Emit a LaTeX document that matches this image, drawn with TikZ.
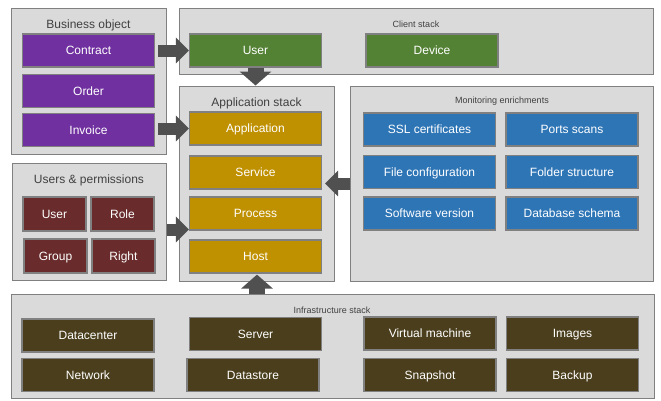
\documentclass[tikz,border=0pt]{standalone}
\usepackage{fontspec}
\setmainfont{Liberation Sans}
\usetikzlibrary{arrows.meta, positioning}

\definecolor{panelfill}{HTML}{DADADA}
\definecolor{panelline}{HTML}{808080}
\definecolor{labelgray}{HTML}{404040}
\definecolor{bopurple}{HTML}{7030A0}
\definecolor{clgreen}{HTML}{548235}
\definecolor{appgold}{HTML}{BF9000}
\definecolor{permred}{HTML}{692B2B}
\definecolor{monblue}{HTML}{2E75B6}
\definecolor{infbrown}{HTML}{4A3E1C}
\definecolor{arrowgray}{HTML}{505050}

\begin{document}
\begin{tikzpicture}[x=1pt, y=-1pt,
                    panel/.style={rectangle, draw=panelline, fill=panelfill, line width=1pt, inner sep=0pt},
                    title/.style={text=labelgray, font=\fontsize{12}{14}\selectfont, inner sep=0pt},
                    smalltitle/.style={text=labelgray, font=\fontsize{9}{11}\selectfont, inner sep=0pt},
                    item/.style={rectangle, draw=panelline, line width=1.2pt, text=white,
                                 minimum width=132pt, minimum height=33pt, inner sep=0pt,
                                 text height=8.6pt, text depth=0.2pt,
                                 font=\fontsize{12}{14}\selectfont},
                    smallitem/.style={item, minimum width=63pt, minimum height=34pt},
                    bigarrow/.style={draw=arrowgray, line width=12pt,
                                     -{Triangle[width=25pt,length=13pt]}},
                    tallarrow/.style={draw=arrowgray, line width=16pt,
                                      -{Triangle[width=31pt,length=14pt]}}]

\useasboundingbox (0,0) rectangle (661,400);

% Panels
\node (business) [panel, minimum width=155pt, minimum height=146pt] at (88.5,81) {};
\node (client) [panel, minimum width=474pt, minimum height=66pt] at (416,41) {};
\node (appstack) [panel, minimum width=155pt, minimum height=195pt] at (256.5,183.5) {};
\node (monitoring) [panel, minimum width=303pt, minimum height=195pt] at (501.5,183.5) {};
\node (perms) [panel, minimum width=154pt, minimum height=117pt] at (89,221.5) {};
\node (infra) [panel, minimum width=643pt, minimum height=104pt] at (332.5,346) {};

% Titles
\node (businesstitle) [title] at (88.5,25) {Business object};
\node (clienttitle) [smalltitle] at (416,24) {Client stack};
\node (apptitle) [title] at (256.5,103) {Application stack};
\node (montitle) [smalltitle] at (502,101) {Monitoring enrichments};
\node (permstitle) [title] at (89,180) {Users \& permissions};
\node (infratitle) [smalltitle] at (332,310) {Infrastructure stack};

% Business object
\node (contract) [item, fill=bopurple] at (88.5,50.5) {Contract};
\node (order) [item, fill=bopurple] at (88.5,91) {Order};
\node (invoice) [item, fill=bopurple] at (88.5,130) {Invoice};

% Client stack
\node (cuser) [item, fill=clgreen] at (255.5,50.5) {User};
\node (device) [item, fill=clgreen] at (432,50.5) {Device};

% Application stack
\node (application) [item, fill=appgold] at (255.5,128.5) {Application};
\node (service) [item, fill=appgold] at (255.5,172.5) {Service};
\node (process) [item, fill=appgold] at (255.5,213.5) {Process};
\node (host) [item, fill=appgold] at (255.5,256.5) {Host};

% Monitoring enrichments
\node (ssl) [item, fill=monblue] at (429.5,129.5) {SSL certificates};
\node (ports) [item, fill=monblue] at (572,129.5) {Ports scans};
\node (fileconf) [item, fill=monblue] at (429.5,172) {File configuration};
\node (folder) [item, fill=monblue] at (572,172) {Folder structure};
\node (software) [item, fill=monblue] at (429.5,213.5) {Software version};
\node (database) [item, fill=monblue] at (572,213.5) {Database schema};

% Users & permissions
\node (puser) [smallitem, fill=permred] at (54.5,214) {User};
\node (role) [smallitem, fill=permred] at (122.5,214) {Role};
\node (group) [smallitem, fill=permred] at (55.5,256) {Group};
\node (right) [smallitem, fill=permred] at (123.5,256) {Right};

% Infrastructure stack
\node (datacenter) [item, fill=infbrown] at (88,335.5) {Datacenter};
\node (server) [item, fill=infbrown] at (255.5,334) {Server};
\node (network) [item, fill=infbrown] at (88,375) {Network};
\node (datastore) [item, fill=infbrown] at (253,375) {Datastore};
\node (vm) [item, fill=infbrown] at (430,333.5) {Virtual machine};
\node (images) [item, fill=infbrown] at (572.5,333.5) {Images};
\node (snapshot) [item, fill=infbrown] at (430,375) {Snapshot};
\node (backup) [item, fill=infbrown] at (572.5,375) {Backup};

% Arrows
\coordinate (permsout) at ([yshift=-8pt]perms.east);
\draw[bigarrow, shorten <=3pt] (contract.east) -- (cuser.west);
\draw[bigarrow, shorten <=3pt] (invoice.east |- application.west) -- (application.west);
\draw[tallarrow] (cuser.south) -- (cuser.south |- appstack.north);
\draw[bigarrow, shorten >=3pt] (monitoring.west) -- (monitoring.west -| service.east);
\draw[bigarrow] (permsout) -- (permsout -| process.west);
\draw[tallarrow, shorten >=1pt] ([xshift=1.5pt]host.south |- infra.north) -- ([xshift=1.5pt]host.south);

\end{tikzpicture}
\end{document}
